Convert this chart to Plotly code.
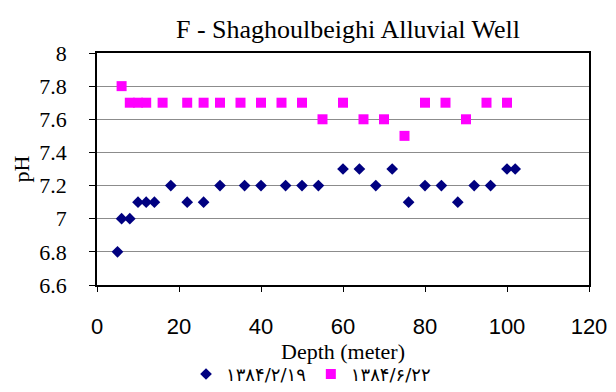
import plotly.graph_objects as go

# Series 1: ۱۳۸۴/۲/۱۹
depth_a = [5, 6, 8, 10, 12, 14, 18, 22, 26, 30, 36, 40, 46, 50, 54, 60, 64, 68, 72, 76, 80, 84, 88, 92, 96, 100, 102]
ph_a = [6.8, 7.0, 7.0, 7.1, 7.1, 7.1, 7.2, 7.1, 7.1, 7.2, 7.2, 7.2, 7.2, 7.2, 7.2, 7.3, 7.3, 7.2, 7.3, 7.1, 7.2, 7.2, 7.1, 7.2, 7.2, 7.3, 7.3]

# Series 2: ۱۳۸۴/۶/۲۲
depth_b = [6, 8, 10, 12, 16, 22, 26, 30, 35, 40, 45, 50, 55, 60, 65, 70, 75, 80, 85, 90, 95, 100]
ph_b = [7.8, 7.7, 7.7, 7.7, 7.7, 7.7, 7.7, 7.7, 7.7, 7.7, 7.7, 7.7, 7.6, 7.7, 7.6, 7.6, 7.5, 7.7, 7.7, 7.6, 7.7, 7.7]

name_a = "۱۳۸۴/۲/۱۹"
name_b = "۱۳۸۴/۶/۲۲"

x_ticks = [0, 20, 40, 60, 80, 100, 120]
y_ticks = [6.6, 6.8, 7.0, 7.2, 7.4, 7.6, 7.8, 8.0]
y_labels = ["6.6", "6.8", "7", "7.2", "7.4", "7.6", "7.8", "8"]

serif = "Times New Roman, Liberation Serif, serif"
sans = "Arial, Liberation Sans, sans-serif"

fig = go.Figure()
fig.add_trace(go.Scatter(x=depth_a, y=ph_a, mode="markers", name=name_a,
                         marker=dict(symbol="diamond", size=9, color="#000080")))
fig.add_trace(go.Scatter(x=depth_b, y=ph_b, mode="markers", name=name_b,
                         marker=dict(symbol="square", size=10, color="#FF00FF")))

fig.update_layout(
    width=616, height=392,
    margin=dict(l=97, r=27, t=53, b=107, autoexpand=False),
    paper_bgcolor="white", plot_bgcolor="white",
    title=dict(text="F - Shaghoulbeighi Alluvial Well", x=0.565, xanchor="center",
               y=0.926, yanchor="middle",
               font=dict(family=serif, size=26, color="black")),
    showlegend=True,
    legend=dict(orientation="h", x=0.435, xanchor="center", y=-0.385, yanchor="middle",
                font=dict(family="DejaVu Sans, sans-serif", size=18, color="black"),
                itemwidth=30, tracegroupgap=0),
    xaxis=dict(range=[0, 120], tickvals=x_ticks, ticks="outside", ticklen=5,
               tickcolor="black", tickwidth=1,
               showline=True, linecolor="black", linewidth=1.5, mirror=True,
               showgrid=False, zeroline=False, automargin=False,
               tickfont=dict(family=sans, size=22, color="black"),
               ticklabelstandoff=16,
               title=dict(text="Depth (meter)", standoff=5,
                          font=dict(family=serif, size=22, color="black"))),
    yaxis=dict(range=[6.6, 8.0], tickvals=y_ticks, ticktext=y_labels,
               ticks="outside", ticklen=6, tickcolor="black", tickwidth=1,
               showline=True, linecolor="black", linewidth=1.5, mirror=True,
               showgrid=True, gridcolor="#8c8c8c", gridwidth=1, zeroline=False,
               automargin=False,
               tickfont=dict(family=serif, size=22, color="black"),
               ticklabelstandoff=18,
               title=dict(text="pH", standoff=4,
                          font=dict(family=serif, size=22, color="black"))),
)

fig.write_html("out.html")
